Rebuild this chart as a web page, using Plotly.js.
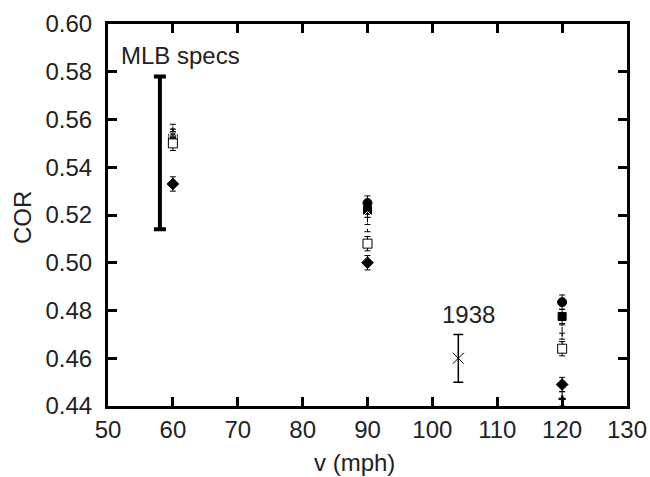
<!DOCTYPE html>
<html><head><meta charset="utf-8">
<script src="https://cdn.plot.ly/plotly-3.0.1.min.js"></script>
<style>body{margin:0;background:#fff}#c{width:650px;height:477px}</style>
</head><body><div id="c"></div>
<script>
var speeds = [60, 90, 120];
var filledCircle = [0.553, 0.525, 0.4835];
var filledSquare = [0.552, 0.522, 0.4775];
var openDiamond = [0.555, 0.519, 0.471];
var circleCross = [0.553, 0.516, 0.4675];
var openSquare = [0.550, 0.508, 0.464];
var filledDiamond = [0.533, 0.500, 0.449];
var extraX = [120];
var extraY = [0.443];
var errs = [0.003, 0.003, 0.003];
var specX = [58];
var specY = [0.546];
var specErr = [0.032];
var x1938 = [104];
var y1938 = [0.460];
var err1938 = [0.010];

var FONT = 'Liberation Sans, Arial, Helvetica, sans-serif';
function series(y, sym, fill, size) {
  return {x: speeds, y: y, type: 'scatter', mode: 'markers',
    marker: {symbol: sym, size: size || 8, color: fill ? '#000' : '#fff', line: {color: '#000', width: 1}},
    error_y: {type: 'data', array: errs, visible: true, color: '#000', thickness: 1, width: 3},
    showlegend: false, cliponaxis: false};
}
var data = [
  series(filledSquare, 'square', true, 8),
  series(filledCircle, 'circle', true, 9),
  series(circleCross, 'circle-cross-open', false, 8),
  series(openDiamond, 'diamond-open', false, 9),
  series(openSquare, 'square', false, 9),
  series(filledDiamond, 'diamond', true, 9),
  {x: extraX, y: extraY, type: 'scatter', mode: 'markers', marker: {symbol: 'cross', size: 6, color: '#000'},
   error_y: {type: 'data', array: [0.003], visible: true, color: '#000', thickness: 1, width: 3}, showlegend: false, cliponaxis: false},
  {x: specX, y: specY, type: 'scatter', mode: 'markers', marker: {size: 1, color: 'rgba(0,0,0,0)'},
   error_y: {type: 'data', array: specErr, visible: true, color: '#000', thickness: 4, width: 6}, showlegend: false},
  {x: x1938, y: y1938, type: 'scatter', mode: 'markers', marker: {symbol: 'x-thin-open', size: 11, color: '#000', line: {color: '#555', width: 1}},
   error_y: {type: 'data', array: err1938, visible: true, color: '#000', thickness: 1.5, width: 5}, showlegend: false}
];
var axisCommon = {showgrid: false, zeroline: false, showline: true, linecolor: '#000', linewidth: 3,
  mirror: 'ticks', ticks: 'inside', ticklen: 9, tickwidth: 3, tickcolor: '#000',
  tickfont: {family: FONT, size: 24, color: '#222'}};
var layout = {
  width: 650, height: 477,
  margin: {l: 108, r: 23, t: 24, b: 71},
  paper_bgcolor: '#fff', plot_bgcolor: '#fff',
  xaxis: Object.assign({}, axisCommon, {range: [50, 130], dtick: 10, tick0: 50, ticklabelstandoff: 0}),
  yaxis: Object.assign({}, axisCommon, {range: [0.44, 0.60], dtick: 0.02, tick0: 0.44, tickformat: '.2f', ticklabelstandoff: 8}),
  annotations: [
    {x: 58, y: 0.5868, xref: 'x', yref: 'y', text: 'MLB specs', showarrow: false, xanchor: 'center', yanchor: 'middle', xshift: 21,
     font: {family: FONT, size: 24, color: '#222'}},
    {x: 104, y: 0.4785, xref: 'x', yref: 'y', text: '1938', showarrow: false, xanchor: 'center', yanchor: 'middle', xshift: 10,
     font: {family: FONT, size: 24, color: '#222'}},
    {x: 0.4740, y: -0.148, xref: 'paper', yref: 'paper', text: 'v (mph)', showarrow: false, xanchor: 'center', yanchor: 'middle',
     font: {family: FONT, size: 24, color: '#222'}},
    {x: -0.1657, y: 0.492, xref: 'paper', yref: 'paper', text: 'COR', showarrow: false, xanchor: 'center', yanchor: 'middle', textangle: -90,
     font: {family: FONT, size: 24, color: '#222'}}
  ]
};
Plotly.newPlot('c', data, layout, {displayModeBar: false, staticPlot: true});
</script></body></html>
